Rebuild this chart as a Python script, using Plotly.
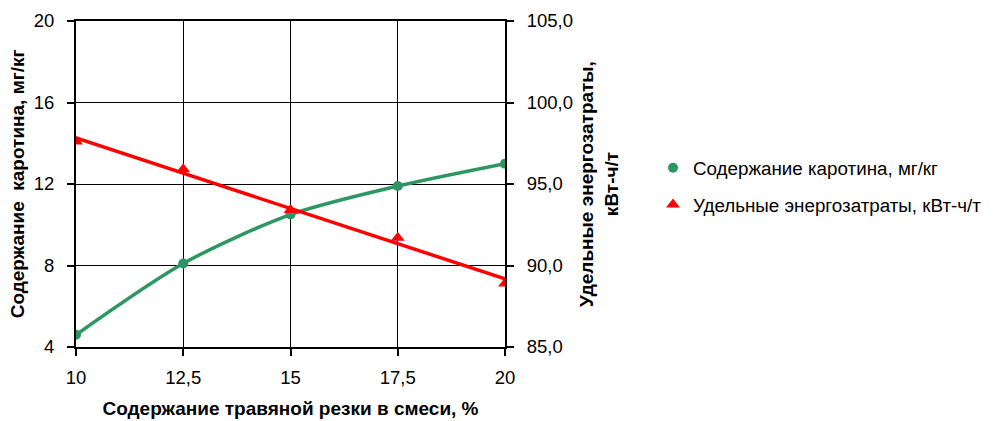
import numpy as np
import plotly.graph_objects as go

x_vals = [10, 12.5, 15, 17.5, 20]
carotene = [4.6, 8.1, 10.5, 11.9, 13.0]
energy = [97.6, 95.9, 93.4, 91.7, 88.9]

name_car = "Содержание каротина, мг/кг"
name_en = "Удельные энергозатраты, кВт-ч/т"

GREEN = "#2E9662"
RED = "#FF0000"
FONT = "Liberation Sans, Arial, sans-serif"

# linear trend line for energy
k, b = np.polyfit(x_vals, energy, 1)
trend_x = [x_vals[0], x_vals[-1]]
trend_y = [k * v + b for v in trend_x]

fig = go.Figure()
fig.add_trace(go.Scatter(x=x_vals, y=carotene, mode="lines", showlegend=False,
                         line=dict(color=GREEN, width=3.5, shape="spline", smoothing=0.8),
                         yaxis="y"))
fig.add_trace(go.Scatter(x=x_vals, y=carotene, mode="markers", name=name_car,
                         marker=dict(color=GREEN, size=10, symbol="circle"),
                         legend="legend", yaxis="y"))
fig.add_trace(go.Scatter(x=trend_x, y=trend_y, mode="lines", showlegend=False,
                         line=dict(color=RED, width=3.5), yaxis="y2"))
fig.add_trace(go.Scatter(x=x_vals, y=energy, mode="markers", name=name_en,
                         marker=dict(color=RED, size=12, symbol="triangle-up"),
                         legend="legend2", yaxis="y2"))

axis_common = dict(showline=True, linecolor="black", linewidth=2, ticks="outside",
                   ticklen=7, tickwidth=2, tickcolor="black", showgrid=True,
                   gridcolor="black", gridwidth=1, zeroline=False, automargin=False,
                   tickfont=dict(family=FONT, size=18.5, color="black"))

fig.update_layout(
    width=1003, height=421,
    margin=dict(l=76, r=498, t=21, b=74),
    paper_bgcolor="white", plot_bgcolor="white",
    separators=", ",
    font=dict(family=FONT, color="black"),
    xaxis=dict(range=[10, 20], tickvals=x_vals, mirror=True, ticklabelstandoff=6,
               title=dict(text="<b>Содержание травяной резки в смеси, %</b>",
                          font=dict(family=FONT, size=19), standoff=14),
               **axis_common),
    yaxis=dict(range=[4, 20], tickvals=[4, 8, 12, 16, 20], ticklabelstandoff=9,
               title=dict(text="<b>Содержание  каротина, мг/кг</b>",
                          font=dict(family=FONT, size=19), standoff=4),
               **axis_common),
    yaxis2=dict(range=[85, 105], tickvals=[85, 90, 95, 100, 105], tickformat=".1f",
                overlaying="y", side="right", ticklabelstandoff=9,
                title=dict(text="<b>Удельные энергозатраты,<br>кВт-ч/т</b>",
                           font=dict(family=FONT, size=19), standoff=8),
                **{**axis_common, "showgrid": False}),
    legend=dict(x=1.345, y=0.549, xanchor="left", yanchor="middle",
                font=dict(family=FONT, size=18.8), bgcolor="rgba(0,0,0,0)"),
    legend2=dict(x=1.345, y=0.436, xanchor="left", yanchor="middle",
                 font=dict(family=FONT, size=18.8), bgcolor="rgba(0,0,0,0)"),
)

fig.write_html("out.html")
